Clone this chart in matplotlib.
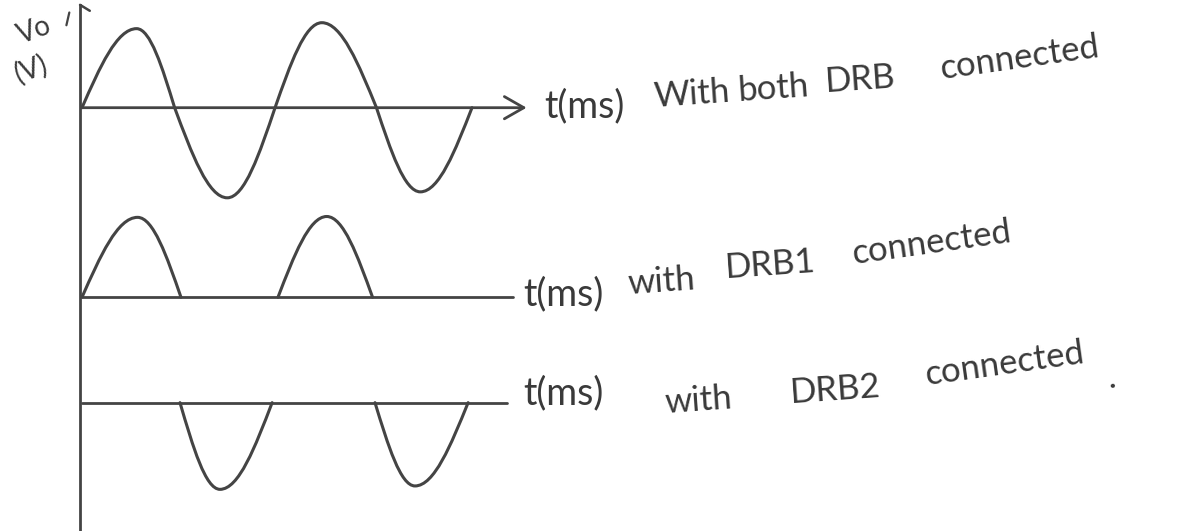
import matplotlib
matplotlib.use("Agg")
import matplotlib.pyplot as plt
from matplotlib.path import Path
from matplotlib.patches import PathPatch

# time axis in ms, voltage in V
# each half cycle: (start, peak time, end, peak value)
both_drb = [(0.0, 5.6, 9.5, 9.3),
            (9.5, 14.9, 19.8, -10.6),
            (19.8, 24.6, 30.2, 10.0),
            (30.2, 34.7, 40.0, -9.9)]
drb1 = [(0.0, 5.7, 10.15, 9.4),
        (20.1, 25.1, 29.8, 9.5)]
drb2 = [(10.05, 14.15, 19.5, -10.2),
        (30.05, 34.15, 39.6, -9.8)]

captions = [["With", "both", "DRB", "connected"],
            ["with", "DRB1", "connected"],
            ["with", "DRB2", "connected", "."]]
t_label = "t(ms)"
v_label = ["Vo", "(V)"]

# layout (data units: ms across, V up)
baselines = [49.8, 27.5, 15.1]
line_ends = [45.6, 44.2, 43.6]
word_pos = [[(58.6, 51.0), (67.3, 51.8), (76.2, 52.8), (88.0, 54.3)],
            [(56.0, 29.0), (66.0, 30.9), (79.0, 32.6)],
            [(59.8, 15.0), (72.6, 16.2), (86.5, 18.3), (105.2, 18.0)]]
t_pos = [(47.4, 50.0), (45.3, 27.9), (45.3, 16.2)]
ink = "#444444"

fig = plt.figure(figsize=(11.91, 5.31), dpi=100)
fig.patch.set_facecolor("white")
ax = fig.add_axes([0, 0, 1, 1])
ax.set_xlim(-8.41, 113.74)
ax.set_ylim(0, 62.47)
ax.axis("off")


def wave_path(halves, y0):
    verts, codes = [], []
    for i, (t0, tp, t1, a) in enumerate(halves):
        w1, w2 = tp - t0, t1 - tp
        if i == 0 or halves[i - 1][2] != t0:
            verts.append((t0, y0))
            codes.append(Path.MOVETO)
        verts += [(t0 + 0.326 * w1, y0 + 0.512 * a), (t0 + 0.638 * w1, y0 + a), (tp, y0 + a),
                  (tp + 0.362 * w2, y0 + a), (tp + 0.674 * w2, y0 + 0.512 * a), (t1, y0)]
        codes += [Path.CURVE4] * 6
    return Path(verts, codes)


for halves, y0 in zip([both_drb, drb1, drb2], baselines):
    ax.add_patch(PathPatch(wave_path(halves, y0), fill=False, ec=ink, lw=2.2,
                           capstyle="round", joinstyle="round"))

# time axes
ax.annotate("", xy=(line_ends[0], baselines[0]), xytext=(0, baselines[0]),
            arrowprops=dict(arrowstyle="->,head_length=0.7,head_width=0.4", lw=2.0,
                            color=ink, mutation_scale=20, shrinkA=0, shrinkB=0))
for y0, end in zip(baselines[1:], line_ends[1:]):
    ax.plot([0, end], [y0, y0], color=ink, lw=2.0, solid_capstyle="round")

# voltage axis
ax.plot([-0.2, -0.2], [0, 61.9], color=ink, lw=2.0)
ax.plot([-0.2, 0.8], [61.9, 61.2], color=ink, lw=1.8, solid_capstyle="round")
ax.plot([-1.6, -1.3], [59.5, 61.0], color=ink, lw=1.6, solid_capstyle="round")

font = dict(family=["Lato", "DejaVu Sans"], color="#3a3a3a")
ax.text(-4.9, 58.9, v_label[0], fontsize=20, rotation=20, ha="center", va="center", **font)
ax.text(-5.2, 54.3, v_label[1], fontsize=20, rotation=20, ha="center", va="center", **font)

for (tx, ty), words, places in zip(t_pos, captions, word_pos):
    ax.text(tx, ty, t_label, fontsize=27, ha="left", va="center", **font)
    for w, (wx, wy) in zip(words, places):
        rot = 8 if w == "connected" else 4
        ax.text(wx, wy, w, fontsize=25, ha="left", va="center", rotation=rot,
                rotation_mode="anchor", **font)

fig.savefig("out.png", dpi=100, facecolor="white")
